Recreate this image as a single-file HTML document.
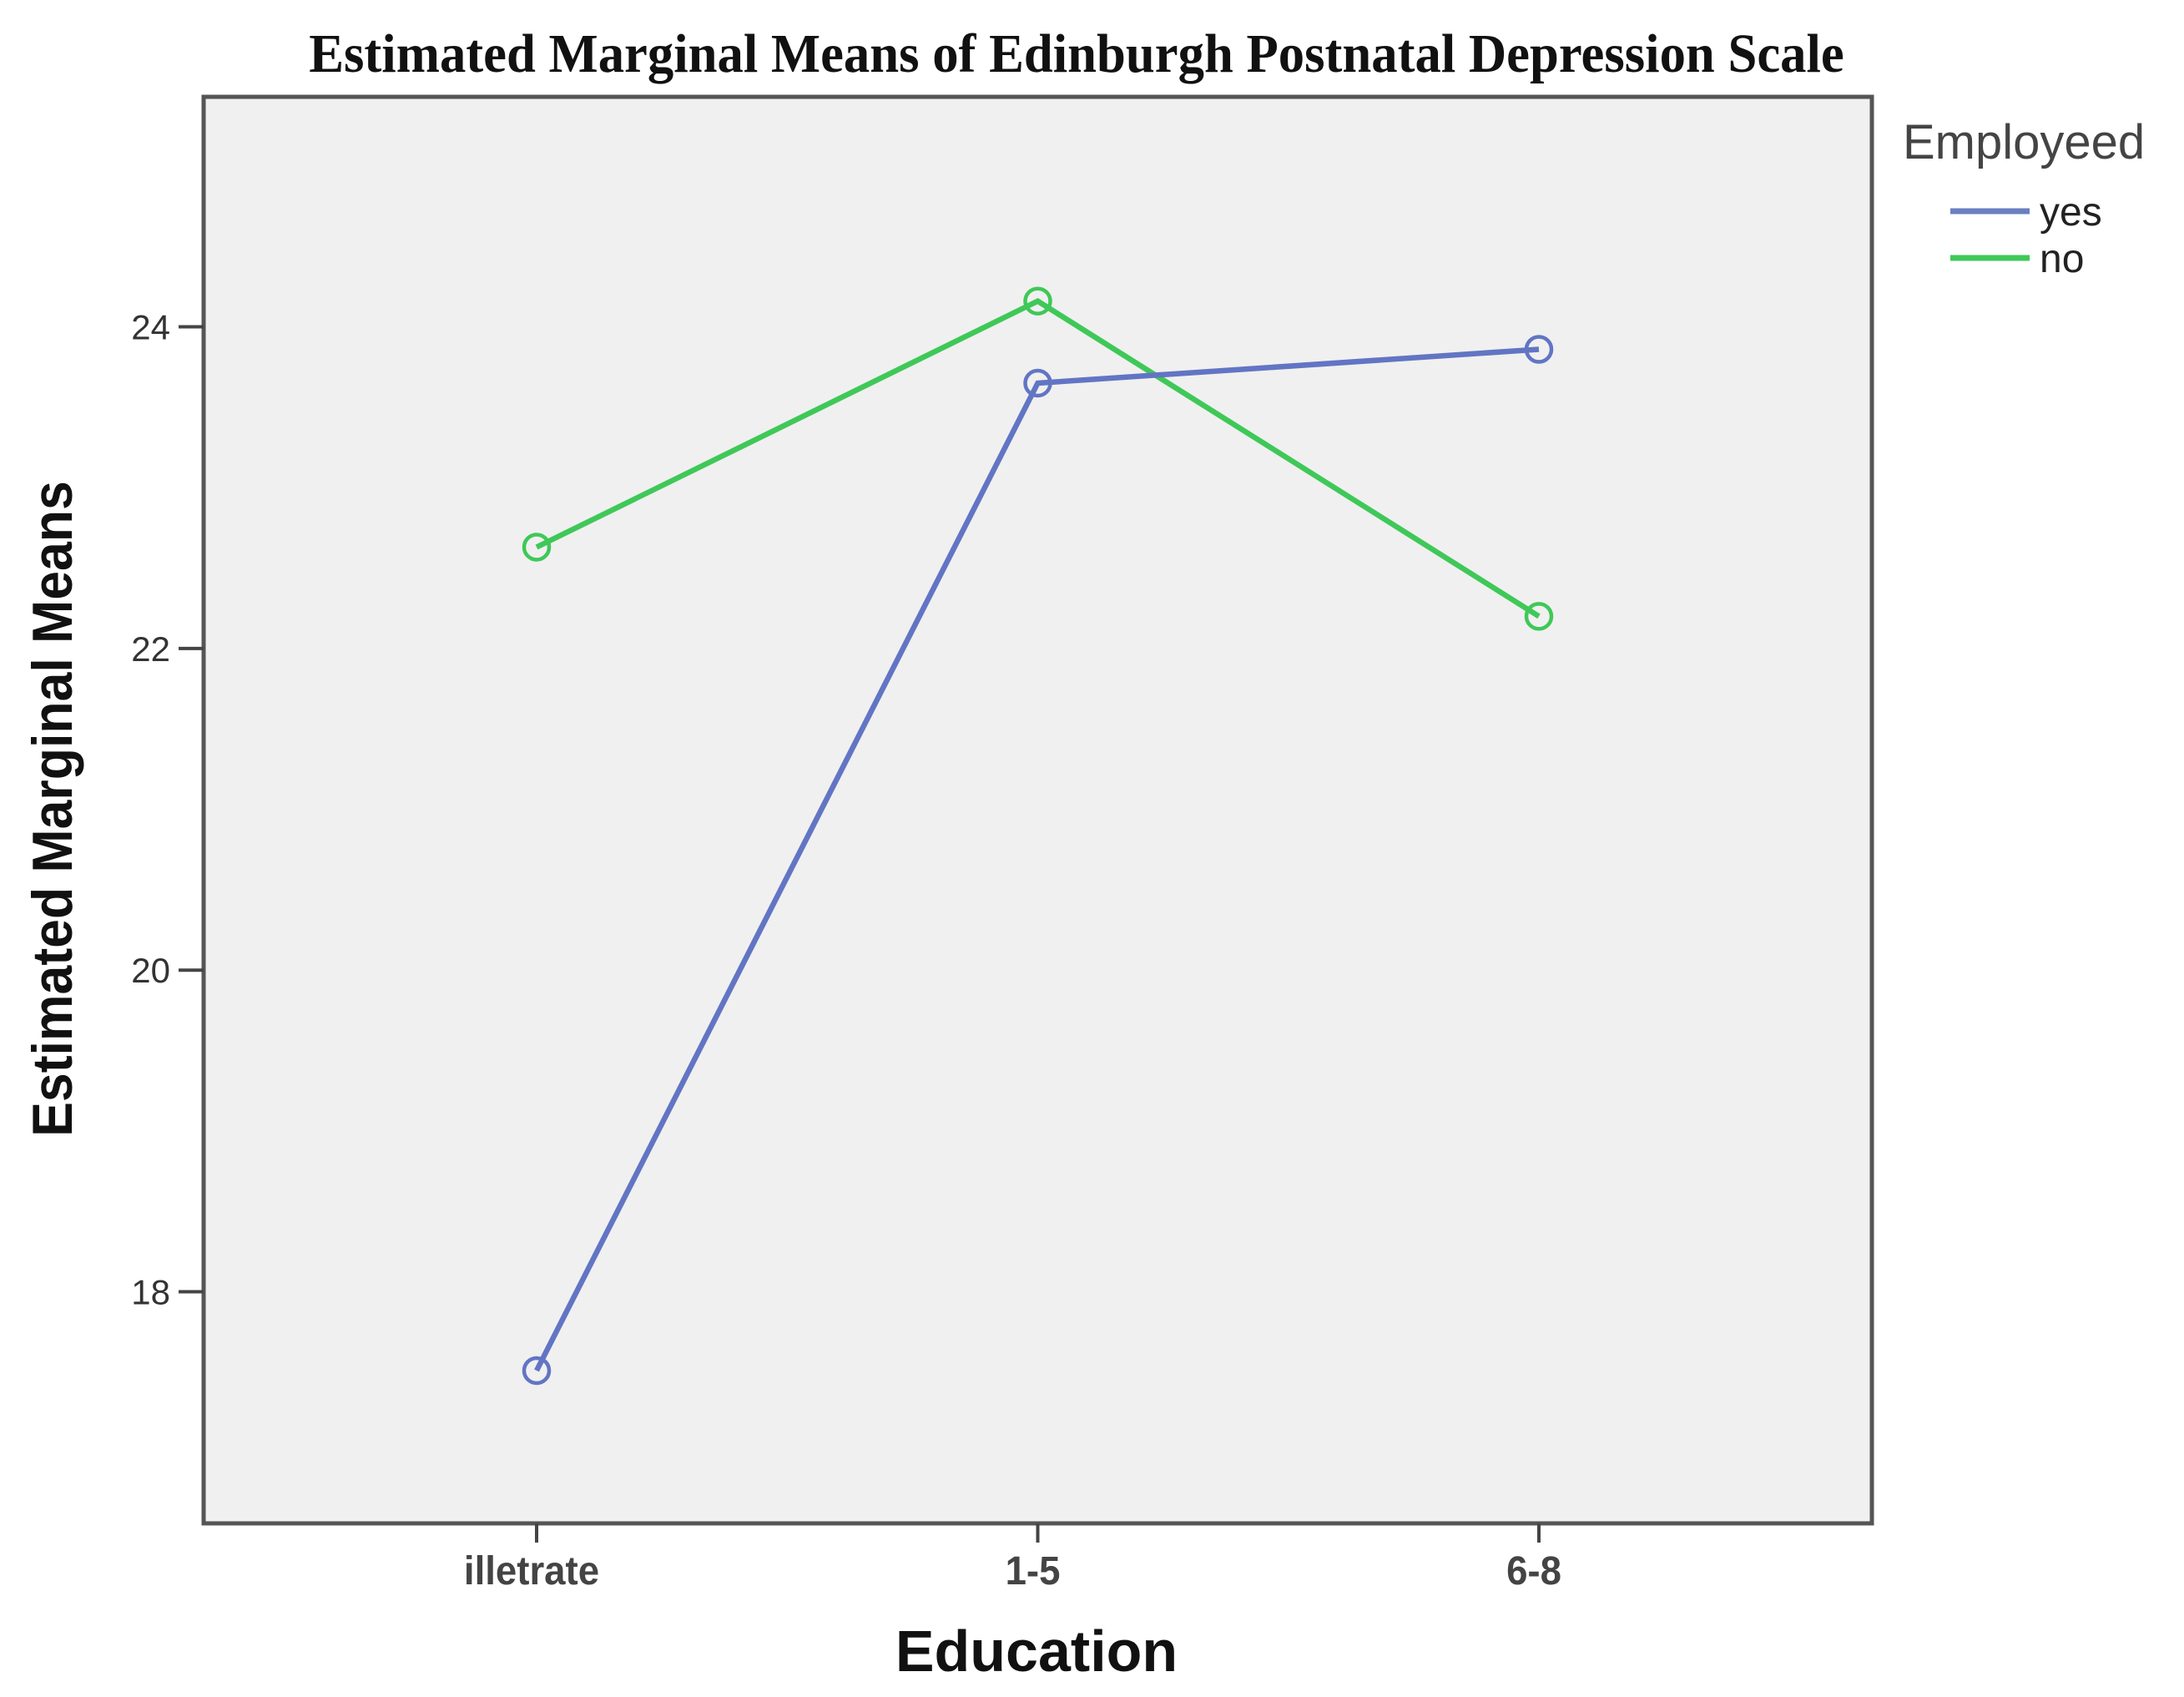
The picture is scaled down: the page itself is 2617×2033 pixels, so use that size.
<!DOCTYPE html>
<html><head><meta charset="utf-8"><style>
html,body{margin:0;padding:0;background:#fff;}
svg{display:block;}
</style></head><body>
<svg id="chart" width="2617" height="2033" viewBox="0 0 2617 2033" xmlns="http://www.w3.org/2000/svg">
<text x="1290" y="86" text-anchor="middle" font-family="Liberation Serif, serif" font-weight="bold" font-size="66" fill="#111" transform="translate(1290 0) scale(0.95 1) translate(-1290 0)">Estimated Marginal Means of Edinburgh Postnatal Depression Scale</text>
<rect x="244" y="116" width="1999" height="1709" fill="#f0f0f0" stroke="#555" stroke-width="5"/>
<g id="yaxis"></g>
<g id="xaxis"></g>
<g id="series"></g>
<text x="0" y="0" transform="translate(86 969) rotate(-90) scale(0.92 1)" text-anchor="middle" font-family="Liberation Sans, sans-serif" font-weight="bold" font-size="68" fill="#111">Estimated Marginal Means</text>
<text x="1242" y="2002" text-anchor="middle" font-family="Liberation Sans, sans-serif" font-weight="bold" font-size="70" fill="#111">Education</text>
<g>
<text x="2280" y="190" font-family="Liberation Sans, sans-serif" font-size="58" fill="#444">Employeed</text>
<line x1="2337" y1="253" x2="2432" y2="253" stroke="#6a7fc0" stroke-width="7"/>
<text x="2444" y="270" font-family="Liberation Sans, sans-serif" font-size="48" fill="#222">yes</text>
<line x1="2337" y1="309" x2="2432" y2="309" stroke="#3fc858" stroke-width="7"/>
<text x="2444" y="326" font-family="Liberation Sans, sans-serif" font-size="48" fill="#222">no</text>
</g>
</svg>
<script>
const categories = ["illetrate", "1-5", "6-8"];
const yesValues = [17.51, 23.65, 23.86];
const noValues = [22.63, 24.16, 22.20];
const yTicks = [18, 20, 22, 24];

const NS = "http://www.w3.org/2000/svg";
const yMinV = 16.56, yMaxV = 25.43, plotTop = 116, plotBottom = 1825;
function yScale(v){ return plotBottom - (v - yMinV) / (yMaxV - yMinV) * (plotBottom - plotTop); }
const xFirst = 643, xStep = 600.5;
function xScale(i){ return xFirst + i * xStep; }
function mk(tag, attrs){ const e = document.createElementNS(NS, tag); for (const k in attrs) e.setAttribute(k, attrs[k]); return e; }

const yaxis = document.getElementById('yaxis');
yTicks.forEach(t => {
  const y = yScale(t);
  const l = mk('line', {x1: 214, x2: 244, y1: y, y2: y, stroke: '#444', 'stroke-width': 4});
  
  
  yaxis.appendChild(l);
  const tx = mk('text', {x: 204, y: y + 15, 'text-anchor': 'end', 'font-family': 'Liberation Sans, sans-serif', 'font-size': 42, fill: '#333'});
  tx.textContent = t;
  
  
  yaxis.appendChild(tx);
});
const xaxis = document.getElementById('xaxis');
categories.forEach((c, i) => {
  const x = xScale(i);
  const l = mk('line', {x1: x, x2: x, y1: 1825, y2: 1848, stroke: '#444', 'stroke-width': 4});
  
  
  xaxis.appendChild(l);
  const tx = mk('text', {x: 0, y: 0, 'text-anchor': 'middle', 'font-family': 'Liberation Sans Narrow, Liberation Sans, sans-serif', 'font-weight': 'bold', 'font-size': 48, fill: '#444', transform: 'translate(' + (x - 6) + ' 1898) scale(0.95 1)'});
  tx.textContent = c;
  
  
  xaxis.appendChild(tx);
});
const sg = document.getElementById('series');
function drawSeries(vals, color, name){
  const pts = vals.map((v, i) => xScale(i) + ',' + yScale(v)).join(' ');
  const pl = mk('polyline', {points: pts, fill: 'none', stroke: color, 'stroke-width': 6.5});
  
  
  sg.appendChild(pl);
  vals.forEach((v, i) => {
    const c = mk('circle', {cx: xScale(i), cy: yScale(v), r: 15, fill: 'none', stroke: color, 'stroke-width': 4.5});
    
    
    sg.appendChild(c);
  });
}
drawSeries(noValues, '#3fc858', 'series-no');
drawSeries(yesValues, '#6275c4', 'series-yes');
</script>
</body></html>
